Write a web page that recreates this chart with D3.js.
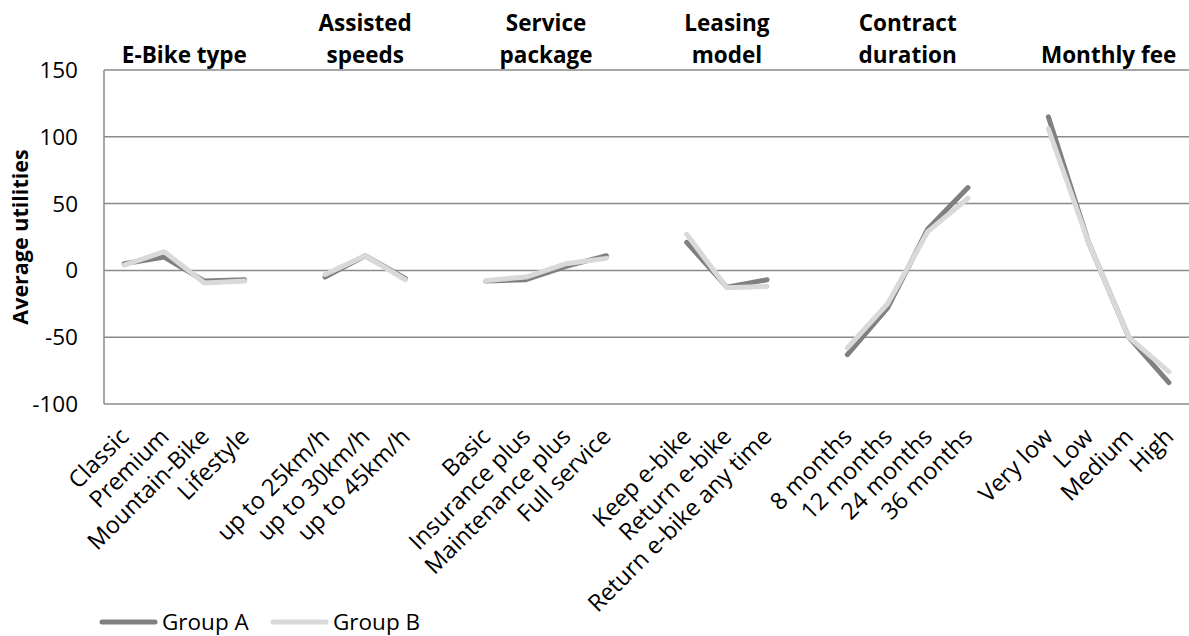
<!DOCTYPE html>
<html>
<head>
<meta charset="utf-8">
<script src="https://cdn.jsdelivr.net/npm/d3@7"></script>
<style>
  html, body { margin: 0; padding: 0; background: #fff; }
  svg text { font-family: "Open Sans", sans-serif; fill: #000; }
</style>
</head>
<body>
<svg id="chart" width="1189" height="636"></svg>
<script>
// Attribute levels; empty strings are spacer slots between attribute groups
const categories = [
  "Classic", "Premium", "Mountain-Bike", "Lifestyle", "",
  "up to 25km/h", "up to 30km/h", "up to 45km/h", "",
  "Basic", "Insurance plus", "Maintenance plus", "Full service", "",
  "Keep e-bike", "Return e-bike", "Return e-bike any time", "",
  "8 months", "12 months", "24 months", "36 months", "",
  "Very low", "Low", "Medium", "High"
];

// Average part-worth utilities (null = gap between groups)
const groupA = [
  5, 10, -8, -7, null,
  -5, 11, -6, null,
  -8, -7, 3, 11, null,
  21, -12.5, -7, null,
  -63, -28, 31, 62, null,
  115, 21, -50, -84
];
const groupB = [
  4, 14, -9.5, -8, null,
  -3, 11, -7, null,
  -7.5, -5, 5, 9, null,
  27, -13, -12, null,
  -58, -25, 29, 54, null,
  106, 21, -50, -76
];

// Attribute group titles with the first/last level index they span
const groupTitles = [
  { lines: ["E-Bike type"], from: 0, to: 3 },
  { lines: ["Assisted", "speeds"], from: 5, to: 7 },
  { lines: ["Service", "package"], from: 9, to: 12 },
  { lines: ["Leasing", "model"], from: 14, to: 16 },
  { lines: ["Contract", "duration"], from: 18, to: 21 },
  { lines: ["Monthly fee"], from: 23, to: 26 }
];

const yTicks = [150, 100, 50, 0, -50, -100];

const series = [
  { name: "Group A", values: groupA, color: "#808080" },
  { name: "Group B", values: groupB, color: "#d9d9d9" }
];

const svg = d3.select("#chart");
const margin = { left: 104, right: 0, top: 70, bottom: 232 };
const W = 1189, H = 636;

const x = d3.scaleBand()
  .domain(d3.range(categories.length))
  .range([margin.left, W - margin.right]);
const cx = i => x(i) + x.bandwidth() / 2;

const y = d3.scaleLinear()
  .domain([-100, 150])
  .range([H - margin.bottom, margin.top]);

// Horizontal gridlines
svg.append("g")
  .selectAll("line")
  .data(yTicks)
  .join("line")
  .attr("x1", margin.left)
  .attr("x2", W - margin.right)
  .attr("y1", d => y(d))
  .attr("y2", d => y(d))
  .attr("stroke", "#8a8a8a")
  .attr("stroke-width", 1.5);

// Vertical value axis line
svg.append("line")
  .attr("x1", margin.left).attr("x2", margin.left)
  .attr("y1", y(150)).attr("y2", y(-100))
  .attr("stroke", "#8a8a8a")
  .attr("stroke-width", 1.5);

// Y tick labels
svg.append("g")
  .selectAll("text")
  .data(yTicks)
  .join("text")
  .attr("x", margin.left - 26)
  .attr("y", d => y(d) + 8)
  .attr("text-anchor", "end")
  .attr("font-size", 22.5)
  .text(d => d);

// Y axis title
svg.append("text")
  .attr("transform", `translate(28, ${(y(150) + y(-100)) / 2}) rotate(-90)`)
  .attr("text-anchor", "middle")
  .attr("font-size", 21.5)
  .attr("font-weight", "bold")
  .text("Average utilities");

// Group titles above the plot
const titleG = svg.append("g");
groupTitles.forEach(g => {
  const mid = (cx(g.from) + cx(g.to)) / 2;
  const n = g.lines.length;
  g.lines.forEach((ln, k) => {
    titleG.append("text")
      .attr("x", mid)
      .attr("y", 63 - (n - 1 - k) * 32)
      .attr("text-anchor", "middle")
      .attr("font-size", 22.5)
      .attr("font-weight", "bold")
      .text(ln);
  });
});

// Rotated category labels
svg.append("g")
  .selectAll("text")
  .data(categories.map((c, i) => ({ c, i })).filter(d => d.c !== ""))
  .join("text")
  .attr("transform", d => `translate(${cx(d.i) + 6}, 438) rotate(-45)`)
  .attr("text-anchor", "end")
  .attr("font-size", 23.5)
  .text(d => d.c);

// Series lines, broken at the spacer slots
const line = d3.line()
  .defined(d => d.v !== null)
  .x(d => cx(d.i))
  .y(d => y(d.v));

svg.append("g")
  .selectAll("path")
  .data(series)
  .join("path")
  .attr("d", s => line(s.values.map((v, i) => ({ v, i }))))
  .attr("fill", "none")
  .attr("stroke", s => s.color)
  .attr("stroke-width", 5)
  .attr("stroke-linecap", "round")
  .attr("stroke-linejoin", "round");

// Legend
const legend = svg.append("g");
const legendPos = [102, 273];
series.forEach((s, k) => {
  const lx = legendPos[k];
  legend.append("line")
    .attr("x1", lx).attr("x2", lx + 53)
    .attr("y1", 622).attr("y2", 622)
    .attr("stroke", s.color)
    .attr("stroke-width", 5)
    .attr("stroke-linecap", "round");
  legend.append("text")
    .attr("x", lx + 60)
    .attr("y", 630)
    .attr("font-size", 22.5)
    .text(s.name);
});
</script>
</body>
</html>
